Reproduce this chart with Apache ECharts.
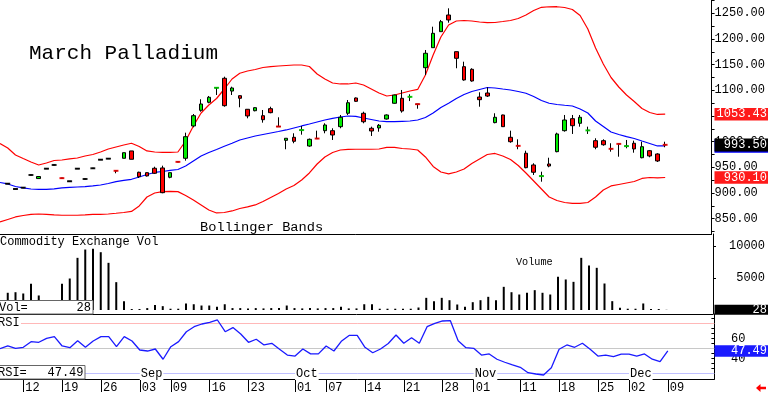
<!DOCTYPE html>
<html><head><meta charset="utf-8">
<script src="https://cdn.jsdelivr.net/npm/echarts@6/dist/echarts.min.js"></script>
<style>html,body{margin:0;padding:0;background:#fff}#c{width:768px;height:395px}</style>
</head><body><div id="c"></div>
<script>
// ---------- DATA ----------
const dates = [
 'Aug 07','Aug 08','Aug 09','Aug 12','Aug 13','Aug 14','Aug 15','Aug 16','Aug 19','Aug 20','Aug 21','Aug 22','Aug 23','Aug 26','Aug 27','Aug 28','Aug 29','Aug 30',
 'Sep 03','Sep 04','Sep 05','Sep 06','Sep 09','Sep 10','Sep 11','Sep 12','Sep 13','Sep 16','Sep 17','Sep 18','Sep 19','Sep 20','Sep 23','Sep 24','Sep 25','Sep 26','Sep 27','Sep 30',
 'Oct 01','Oct 02','Oct 03','Oct 04','Oct 07','Oct 08','Oct 09','Oct 10','Oct 11','Oct 14','Oct 15','Oct 16','Oct 17','Oct 18','Oct 21','Oct 22','Oct 23','Oct 24','Oct 25','Oct 28','Oct 29','Oct 30','Oct 31',
 'Nov 01','Nov 04','Nov 05','Nov 06','Nov 07','Nov 08','Nov 11','Nov 12','Nov 13','Nov 14','Nov 15','Nov 18','Nov 19','Nov 20','Nov 21','Nov 22','Nov 25','Nov 26','Nov 27','Nov 29',
 'Dec 02','Dec 03','Dec 04','Dec 05','Dec 06','Dec 09',
 'Dec 10','Dec 11','Dec 12','Dec 13','Dec 16','Dec 17'
];
const openP = [
 null,918,907.7,910.3,935,928,947.3,954.5,929,922.7,947.3,927.2,948,964.8,966.8,943.5,967.5,981.8,
 940.3,939.5,948.1,948.7,930.5,960.8,967.5,1030.5,1061,1076.6,1104.6,1123.4,1098.5,1089.5,1063,1060.2,1050.5,1064.2,1029.6,1002.5,
 1008.4,1022.2,991.4,1006.2,1021.3,1021.3,1029.1,1055.2,1085,1055.2,1026,1026.6,1044,1074.7,1084.4,1087,1073.2,1144,1183,1214.2,1246.7,1175.2,1146,
 1140.9,1086.9,1094.7,1037,1051.9,1008.4,992,977.3,954.5,932.6,956.4,980.4,1021.3,1044.7,1035.7,1021.6,1001.8,1001.8,986.2,995.8,
 991,996.8,968.6,982.3,975.9,994
];
const closeP = [
 null,918,907.7,910.3,935,932,947.3,954.5,928.6,922.7,947.3,927.2,948,964.8,966.8,942.8,978.4,965.6,
 931.7,933.1,938.3,900.5,939.5,960.3,1009.6,1050.5,1073.3,1086.4,1105.1,1070,1104.5,1084.4,1050,1066.1,1042.7,1056.4,1029.1,1006.5,
 1000.6,1022.7,1004.5,1005.7,1032.4,1012.9,1047.4,1075.8,1078.5,1038.7,1020.7,1031.8,1051.9,1090.8,1059.6,1087.5,1072.7,1172.1,1211,1233.6,1237,1162.3,1120.1,
 1118.1,1081.7,1088.8,1047.4,1029.1,999.8,991.5,949.2,940.3,933.1,952.4,1014.9,1042.1,1031,1047.4,1022.1,989,993.9,985.7,995.3,
 991.5,985.7,990.1,972,962.3,993.5
];
const lowP = [
 null,918,907.7,910.3,935,928,947.3,954.5,928.6,922.7,947.3,927.2,948,964.8,966.8,938.3,967.5,965.6,
 929.1,932,937,899.4,928.6,960.3,962.9,1027.9,1058.3,1074.7,1090.8,1068,1090.8,1066.9,1045.4,1059,1036.9,1055.2,1029.1,985.1,
 996.8,1013.5,990,1005.7,1016.2,1003.2,1026,1051.9,1077.5,1035.7,1011,1019.3,1043,1074,1056.4,1079,1064.1,1129.8,1183,1214.2,1231.7,1142.9,1118.7,
 1116.8,1068,1086.9,1035.7,1028.5,997.8,985.1,948,935,921.9,950,979.2,1019.4,1014.9,1029.1,1014.9,985.1,992,980.4,970.6,
 987,978.4,967.5,969.5,960.3,989
];
const highP = [
 null,918,907.7,910.3,935,932,947.3,954.5,929,922.7,947.3,927.2,948,964.8,966.8,943.5,978.4,981.8,
 941.4,940,951.1,953.1,939.5,960.8,1017.4,1053.8,1082.5,1088.9,1105.1,1126.5,1107,1090,1063.5,1067,1061.6,1068,1047.4,1006.5,
 1016.2,1030.5,1006,1021.3,1035.7,1026,1051.9,1081.1,1086,1058.3,1029.1,1034.3,1053,1091.5,1100.6,1092.2,1073.2,1178.5,1223.9,1237,1259.7,1175.2,1155.7,
 1142.9,1096.1,1105.8,1055.2,1052.5,1021.3,1004.5,982.3,957.8,941.4,968.6,1017.4,1051.9,1051.9,1051.9,1029.1,1006.5,1004.5,996.8,995.8,
 1003.2,1001.8,999.8,983.7,977.3,999.8
];
const upperBand = [
 996.4,987.6,974.0,967.1,960.3,954.5,958.4,963.2,964.2,966.2,968.1,972.0,974.9,979.8,985.6,989.5,993.4,996.8,
 990.5,981.8,979.8,979.2,979.2,979.8,1001.2,1030.5,1055.8,1071.4,1084.0,1102.5,1122.0,1133.1,1137.6,1140.5,1144.4,1146.0,1147.3,1148.3,
 1149.3,1149.3,1146.4,1131.7,1122.0,1114.2,1112.3,1112.3,1114.2,1110.3,1102.5,1094.7,1088.9,1090.8,1094.7,1098.6,1101.6,1129.8,1168.8,1203.8,1227.2,1235.0,1236.0,
 1235.0,1233.0,1231.7,1232.1,1234.0,1236.0,1239.9,1246.7,1255.4,1261.7,1262.7,1262.8,1261.3,1257.4,1245.7,1219.4,1182.4,1151.2,1124.9,1106.4,
 1090.8,1078.2,1064.5,1056.7,1052.9,1053.43
];
const midBand = [
 920.4,917.5,912.6,909.7,907.7,907.1,907.1,908.1,909.7,911.0,911.6,912.2,913.6,915.5,918.4,921.9,924.3,926.6,
 931.1,936.0,939.9,941.8,943.8,945.7,952.5,962.3,972.0,978.8,984.7,990.9,996.8,1003.2,1007.1,1011.0,1013.9,1016.8,1019.7,1022.7,
 1026.6,1030.5,1034.3,1038.2,1042.1,1045.1,1048.0,1049.9,1049.0,1046.0,1043.1,1040.2,1038.8,1038.8,1039.6,1040.2,1042.1,1047.0,1055.8,1066.5,1074.7,1084.0,1091.8,
 1097.7,1101.6,1105.4,1104.5,1102.5,1100.6,1097.7,1094.2,1087.9,1080.1,1074.7,1072.3,1070.8,1069.4,1063.6,1055.8,1040.2,1029.5,1018.8,1013.9,
 1009.6,1006.1,1001.2,996.4,991.5,991.8
];
const lowerBand = [
 843.4,848.3,853.2,856.1,858.1,859.0,858.1,857.1,856.5,856.5,856.5,857.1,858.1,858.4,859.0,860.4,861.9,863.9,
 874.6,892.1,899.9,902.5,902.9,902.5,895.1,886.3,876.6,866.8,861.0,861.9,864.9,869.7,872.7,876.6,883.4,891.2,899.0,907.7,
 914.5,925.3,938.9,956.4,970.1,978.8,983.7,984.7,985.1,985.1,985.1,985.6,988.6,988.6,986.6,985.6,983.7,970.1,951.6,940.8,937.0,940.8,946.7,
 957.4,966.2,974.9,976.9,972.0,965.2,953.5,938.9,923.3,907.7,892.1,885.3,881.4,879.5,879.5,881.4,892.1,905.8,913.6,916.5,
 919.4,922.3,928.2,930.1,929.2,930.1
];
const volume = [
 null,2690,2780,2580,4090,2270,400,300,4090,4920,8150,9450,9560,9030,7370,4350,1380,150,
 150,300,800,600,200,200,1000,900,700,700,500,900,300,300,250,300,250,300,300,700,
 300,250,300,250,300,300,500,250,250,900,900,200,200,200,200,200,390,1900,1380,1900,1530,860,500,
 1220,1530,2060,1530,3620,2780,2420,2690,3100,2690,2420,5190,4770,4400,8150,6950,6590,4140,1380,340,
 200,200,1020,150,150,28
];
const rsi = [
 49.7,52.4,50.1,51.1,56.7,56.1,60.0,61.7,52.4,50.7,57.7,51.1,57.4,61.7,61.7,51.7,61.7,57.4,
 48.4,47.4,49.4,39.2,51.7,56.7,66.6,71.6,74.3,76.0,78.3,66.6,70.7,64.4,56.1,59.1,53.4,55.1,49.1,43.4,
 42.4,49.4,44.5,44.5,52.4,47.4,57.4,63.0,63.0,51.1,45.7,49.4,54.9,63.3,55.1,60.6,55.1,71.6,75.0,77.3,77.6,57.7,50.7,
 50.1,43.4,44.5,39.2,36.2,33.5,31.2,25.8,24.5,23.5,30.8,49.1,53.4,51.1,55.1,49.1,42.4,43.4,41.8,44.2,
 44.2,42.4,44.5,39.2,36.8,47.49
];
const priceTicks = [850,900,950,1000,1050,1100,1150,1200,1250];
const volTicks = [5000,10000];
const rsiTicks = [40,60];
const rsiLevels = [75,50,25];
const weekTicks = ['Aug 12','Aug 19','Aug 26','Sep 03','Sep 09','Sep 16','Sep 23','Oct 01','Oct 07','Oct 14','Oct 21','Oct 28','Nov 01','Nov 11','Nov 18','Nov 25','Dec 02','Dec 09'];
const monthLabels = {'Sep 03':'Sep','Oct 01':'Oct','Nov 01':'Nov','Dec 02':'Dec'};
const lastUpper = 1053.43, lastMid = 991.8, lastClose = 993.50, lastLower = 930.10, lastVol = 28, lastRsi = 47.49;

// ---------- CHART ----------
const FONT = "'Liberation Mono','DejaVu Sans Mono',monospace";
const chart = echarts.init(document.getElementById('c'), null, {renderer:'canvas'});
const GL = -1.7, GW = 716.1;
const ohlc = dates.map((d,j)=> (j<openP.length && openP[j]!=null) ? [openP[j],closeP[j],lowP[j],highP[j]] : '-');
const dashData = [];
for (let j=0;j<openP.length;j++){
  if (openP[j]==null) continue;
  const dd = closeP[j]-openP[j];
  if (Math.abs(dd) < 1.5) dashData.push({value:[j,(openP[j]+closeP[j])/2], itemStyle:{color: dd>0?'#00e000':(dd<0?'#ff0000':'#000')}});
}
const minorPrice = []; for (let v=825; v<1276; v+=25) minorPrice.push(v);
const rsiMinor = []; for (let v=25; v<=80; v+=5) rsiMinor.push(v);
const baseX = (gi)=>({type:'category', gridIndex:gi, data:dates, boundaryGap:false,
  axisLine:{show:true, onZero:false, lineStyle:{color:'#000', width:1}}, axisTick:{show:false}, axisLabel:{show:false}, splitLine:{show:false}});
const xa2 = baseX(2);
xa2.axisTick = {show:true, length:13, interval:(i,v)=>weekTicks.includes(v), lineStyle:{color:'#000'}};
xa2.axisLabel = {show:true, interval:(i,v)=>weekTicks.includes(v), formatter:v=>v.slice(4), align:'left', padding:[0,0,0,2], margin:3,
  fontFamily:FONT, fontSize:12, color:'#000'};
const xaMonth = {type:'category', gridIndex:2, data:dates, boundaryGap:false, position:'bottom', z:6,
  axisLine:{show:false}, axisTick:{show:false}, splitLine:{show:false},
  axisLabel:{show:true, inside:true, interval:(i,v)=>v in monthLabels, formatter:v=>monthLabels[v]||'', align:'left', verticalAlign:'middle',
    margin:5, backgroundColor:'#fff', padding:[0,1,0,1], fontFamily:FONT, fontSize:12, color:'#000'}};
const yLab = {fontFamily:FONT, fontSize:12, color:'#000'};
chart.setOption({
  animation:false,
  backgroundColor:'#fff',
  grid:[
    {left:GL, top:0, width:GW, height:234},
    {left:GL, top:234, width:GW, height:80},
    {left:GL, top:314, width:GW, height:65}
  ],
  xAxis:[baseX(0), baseX(1), xa2, xaMonth],
  yAxis:[
    {type:'value', gridIndex:0, position:'right', min:820, max:1275.9, splitLine:{show:false},
     axisLine:{show:true, lineStyle:{color:'#000'}}, axisTick:{show:true, customValues:minorPrice, length:3, lineStyle:{color:'#000'}},
     axisLabel:Object.assign({customValues:priceTicks, formatter:v=>Number(v).toFixed(2), margin:3, align:'left'}, yLab)},
    {type:'value', gridIndex:1, position:'right', min:-625, max:11875, splitLine:{show:false},
     axisLine:{show:true, lineStyle:{color:'#000'}}, axisTick:{show:true, customValues:volTicks, length:3, lineStyle:{color:'#000'}},
     axisLabel:Object.assign({customValues:volTicks, formatter:v=>String(Math.round(v)), margin:52, align:'right'}, yLab)},
    {type:'value', gridIndex:2, position:'right', min:19.52, max:84.26, splitLine:{show:false},
     axisLine:{show:true, lineStyle:{color:'#000'}}, axisTick:{show:true, inside:true, customValues:rsiMinor, length:3, lineStyle:{color:'#000'}},
     axisLabel:Object.assign({customValues:rsiTicks, formatter:v=>String(Math.round(v)), margin:16.6, align:'left'}, yLab)}
  ],
  series:[
    {type:'line', xAxisIndex:0, yAxisIndex:0, data:upperBand, showSymbol:false, symbol:'none', lineStyle:{color:'#ff0000', width:1.2}, z:2, silent:true},
    {type:'line', xAxisIndex:0, yAxisIndex:0, data:midBand, showSymbol:false, symbol:'none', lineStyle:{color:'#0000ff', width:1.2}, z:2, silent:true},
    {type:'line', xAxisIndex:0, yAxisIndex:0, data:lowerBand, showSymbol:false, symbol:'none', lineStyle:{color:'#ff0000', width:1.2}, z:2, silent:true},
    {type:'candlestick', xAxisIndex:0, yAxisIndex:0, data:ohlc, barWidth:4, z:3,
     itemStyle:{color:'#00ee00', color0:'#ff0000', borderColor:'#000', borderColor0:'#000', borderColorDoji:'#000', borderWidth:1}},
    {type:'scatter', xAxisIndex:0, yAxisIndex:0, data:dashData, symbol:'rect', symbolSize:[5,2], z:4, silent:true},
    {type:'bar', xAxisIndex:1, yAxisIndex:1, data:volume, barWidth:2, itemStyle:{color:'#000'}, z:2, silent:true},
    {type:'line', xAxisIndex:2, yAxisIndex:2, data:rsi, showSymbol:false, symbol:'none', lineStyle:{color:'#1a1aff', width:1.3}, z:3, silent:true,
     markLine:{silent:true, symbol:'none', label:{show:false}, z:1,
       data:[{yAxis:rsiLevels[0], lineStyle:{color:'#ffb8b8', width:1, type:'solid'}},
             {yAxis:rsiLevels[1], lineStyle:{color:'#c8c8c8', width:1, type:'solid'}},
             {yAxis:rsiLevels[2], lineStyle:{color:'#c0c0ff', width:1, type:'solid'}}]}}
  ]
});

// ---------- overlays ----------
const py = v=>chart.convertToPixel({yAxisIndex:0}, v);
const vy = v=>chart.convertToPixel({yAxisIndex:1}, v);
const ry = v=>chart.convertToPixel({yAxisIndex:2}, v);
const AX = 714.5;
function valBox(y, txt, bg, h){
  return [{type:'rect', z:100, shape:{x:AX, y:y-h/2, width:768-AX, height:h}, style:{fill:bg}},
          {type:'text', z:101, x:767, y:y, style:{text:txt, fill:'#fff', fontFamily:FONT, fontSize:12, align:'right', verticalAlign:'middle'}}];
}
const g = [];
g.push({type:'text', z:50, x:29, y:53, style:{text:'March Palladium', fill:'#000', fontFamily:FONT, fontSize:21, verticalAlign:'middle'}});
g.push({type:'text', z:50, x:200, y:227.5, style:{text:'Bollinger Bands', fill:'#000', fontFamily:FONT, fontSize:13.7, verticalAlign:'middle'}});
g.push({type:'text', z:50, x:0, y:241.5, style:{text:'Commodity Exchange Vol', fill:'#000', fontFamily:FONT, fontSize:12, verticalAlign:'middle'}});
g.push({type:'text', z:50, x:516, y:262.5, style:{text:'Volume', fill:'#000', fontFamily:FONT, fontSize:10.2, verticalAlign:'middle'}});
g.push({type:'rect', z:50, shape:{x:0, y:316, width:21, height:13}, style:{fill:'#fff'}});
g.push({type:'text', z:51, x:-2, y:322.5, style:{text:'RSI', fill:'#000', fontFamily:FONT, fontSize:12, verticalAlign:'middle'}});
// Vol box
g.push({type:'rect', z:60, shape:{x:-1, y:300.5, width:94, height:13.5}, style:{fill:'#fff', stroke:'#666', lineWidth:1}});
g.push({type:'text', z:61, x:-1, y:307.5, style:{text:'Vol=', fill:'#000', fontFamily:FONT, fontSize:12, verticalAlign:'middle'}});
g.push({type:'text', z:61, x:91, y:307.5, style:{text:String(lastVol), fill:'#000', fontFamily:FONT, fontSize:12, align:'right', verticalAlign:'middle'}});
// RSI box
g.push({type:'rect', z:60, shape:{x:-1, y:365.5, width:86, height:13.5}, style:{fill:'#fff', stroke:'#666', lineWidth:1}});
g.push({type:'text', z:61, x:-2, y:372.5, style:{text:'RSI=', fill:'#000', fontFamily:FONT, fontSize:12, verticalAlign:'middle'}});
g.push({type:'text', z:61, x:83.5, y:372.5, style:{text:lastRsi.toFixed(2), fill:'#000', fontFamily:FONT, fontSize:12, align:'right', verticalAlign:'middle'}});
// right value boxes
g.push(...valBox(py(lastUpper), lastUpper.toFixed(2), '#ff1a1a', 12.5));
g.push({type:'rect', z:99, shape:{x:AX, y:py(lastMid)-6.5, width:768-AX, height:13.5}, style:{fill:'#0000ff'}});
g.push(...valBox(py(lastClose), lastClose.toFixed(2), '#000', 13));
g.push(...valBox(py(lastLower), lastLower.toFixed(2), '#ff1a1a', 12.5));
g.push(...valBox(vy(lastVol), String(lastVol), '#000', 10));
g.push(...valBox(ry(lastRsi), lastRsi.toFixed(2), '#1a1aff', 11.5));
// arrow
g.push({type:'polygon', z:100, shape:{points:[[756,388],[760.5,384],[760.5,386.7],[766,386.7],[766,389.3],[760.5,389.3],[760.5,392]]}, style:{fill:'#ff0000'}});
chart.setOption({graphic:g});
</script>
</body></html>
